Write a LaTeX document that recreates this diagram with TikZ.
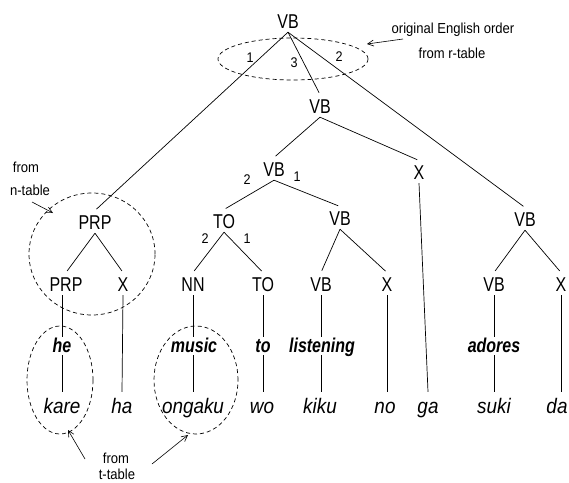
\documentclass[tikz,border=0pt]{standalone}
\usepackage{fontspec}
\setmainfont{Liberation Sans}[FakeStretch=0.8]
\newfontfamily\jpfont{Liberation Sans}[FakeStretch=0.9]
\newfontfamily\annfont{Liberation Sans}[FakeStretch=0.9]
\usetikzlibrary{arrows.meta}
\begin{document}
\begin{tikzpicture}[x=1pt,y=-1pt,
  cat/.style={font=\fontsize{20}{20}\selectfont, inner sep=4pt, text height=14.3pt, text depth=0pt, anchor=base},
  en/.style={font=\fontsize{20}{20}\selectfont\bfseries\itshape, inner sep=3pt, text height=12pt, text depth=0pt, anchor=base},
  jp/.style={font=\jpfont\fontsize{21}{21}\selectfont\itshape, inner sep=4pt, text height=17pt, text depth=0pt, anchor=base},
  ann/.style={font=\annfont\fontsize{14.5}{14.5}\selectfont, inner sep=0pt, anchor=base},
  num/.style={font=\annfont\fontsize{14}{14}\selectfont, inner sep=0pt},
  treeedge/.style={line width=0.7pt, shorten >=2pt},
  vline/.style={line width=0.7pt},
  dashring/.style={line width=0.7pt, dash pattern=on 4pt off 3pt},
  annarrow/.style={line width=0.6pt, -{Straight Barb[length=6pt,width=6pt]}}
]
\path[use as bounding box] (0,0) rectangle (569,482);

% category nodes
\node[cat] (root) at (288,28) {VB};
\node[cat] (vbb) at (320,113) {VB};
\node[cat] (vbc) at (274,176) {VB};
\node[cat] (xa) at (419,179) {X};
\node[cat] (vbr) at (525,226) {VB};
\node[cat] (prpt) at (95,229) {PRP};
\node[cat] (toa) at (224,228) {TO};
\node[cat] (vbl) at (340,225) {VB};
\node[cat] (prp) at (66,291) {PRP};
\node[cat] (xb) at (123,291) {X};
\node[cat] (nn) at (193,291) {NN};
\node[cat] (tob) at (263,291) {TO};
\node[cat] (vbd) at (321,291) {VB};
\node[cat] (xc) at (387,291) {X};
\node[cat] (vbe) at (494,291) {VB};
\node[cat] (xd) at (561,291) {X};

% English words
\node[en] (he) at (62,352) {he};
\node[en] (music) at (194,352) {music};
\node[en] (to) at (263,352) {to};
\node[en] (listening) at (322,352) {listening};
\node[en] (adores) at (494,352) {adores};

% Japanese words
\node[jp] (kare) at (62,413) {kare};
\node[jp] (ha) at (122,413) {ha};
\node[jp] (ongaku) at (193,413) {ongaku};
\node[jp] (wo) at (262,413) {wo};
\node[jp] (kiku) at (320,413) {kiku};
\node[jp] (no) at (385,413) {no};
\node[jp] (ga) at (428,413) {ga};
\node[jp] (suki) at (494,413) {suki};
\node[jp] (da) at (557,413) {da};

% tree edges
\draw[treeedge] (root.south) -- (prpt.north);
\draw[treeedge] (root.south) -- (vbb.north);
\draw[treeedge] (root.south) -- (vbr.north);
\draw[treeedge] (vbb.south) -- (vbc.north);
\draw[treeedge] (vbb.south) -- (xa.north);
\draw[treeedge] (vbc.south) -- (toa.north);
\draw[treeedge] (vbc.south) -- (vbl.north);
\draw[treeedge] (toa.south) -- (nn.north);
\draw[treeedge] (toa.south) -- (tob.north);
\draw[treeedge] (vbl.south) -- (vbd.north);
\draw[treeedge] (vbl.south) -- (xc.north);
\draw[treeedge] (vbr.south) -- (vbe.north);
\draw[treeedge] (vbr.south) -- (xd.north);
\draw[treeedge] (prpt.south) -- (prp.north);
\draw[treeedge] (prpt.south) -- (xb.north);

% vertical links
\draw[vline] (he.north |- prp.south) -- (he.north);
\draw[vline] (he.south) -- (kare.north);
\draw[vline] (xb.south) -- (ha.north);
\draw[vline] (nn.south) -- (music.north -| nn.south);
\draw[vline] (music.south -| nn.south) -- (ongaku.north);
\draw[vline] (tob.south) -- (to.north);
\draw[vline] (to.south) -- (wo.north -| to.south);
\draw[vline] (vbd.south) -- (listening.north -| vbd.south);
\draw[vline] (listening.south -| vbd.south) -- (kiku.north -| vbd.south);
\draw[vline] (xc.south) -- (no.north -| xc.south);
\draw[vline] (xa.south) -- (ga.north);
\draw[vline] (vbe.south) -- (adores.north);
\draw[vline] (adores.south) -- (suki.north);
\draw[vline] (xd.south) -- (da.north -| xd.south);

% order labels
\node[num] (n1) at (250,58) {1};
\node[num] (n3) at (294,63) {3};
\node[num] (n2) at (339,57) {2};
\node[num] (m2) at (247,180) {2};
\node[num] (m1) at (297,177) {1};
\node[num] (k2) at (205,239) {2};
\node[num] (k1) at (247,239) {1};

% dashed rings
\draw[dashring] (293,59) ellipse [x radius=75pt, y radius=21pt];
\draw[dashring] (92,254) ellipse [x radius=63pt, y radius=61pt];
\draw[dashring] (60,380) ellipse [x radius=33pt, y radius=54pt];
\draw[dashring] (196,380) ellipse [x radius=42pt, y radius=54pt];

% annotations
\node[ann] (annA) at (453,33) {original English order};
\node[ann] (annB) at (452,58) {from r-table};
\coordinate (tailA) at (403,39);
\coordinate (tipA) at (367,44);
\draw[annarrow] (tailA) -- (tipA);

\node[ann] (annC) at (26,172) {from};
\node[ann] (annD) at (30,195) {n-table};
\coordinate (tailC) at (32,202);
\coordinate (tipC) at (53,213);
\draw[annarrow] (tailC) -- (tipC);

\node[ann] (annE) at (116,463) {from};
\node[ann] (annF) at (117,479) {t-table};
\coordinate (tailE) at (85,459);
\coordinate (tipE) at (68,430);
\coordinate (tailF) at (152,464);
\coordinate (tipF) at (188,435);
\draw[annarrow] (tailE) -- (tipE);
\draw[annarrow] (tailF) -- (tipF);
\end{tikzpicture}
\end{document}
